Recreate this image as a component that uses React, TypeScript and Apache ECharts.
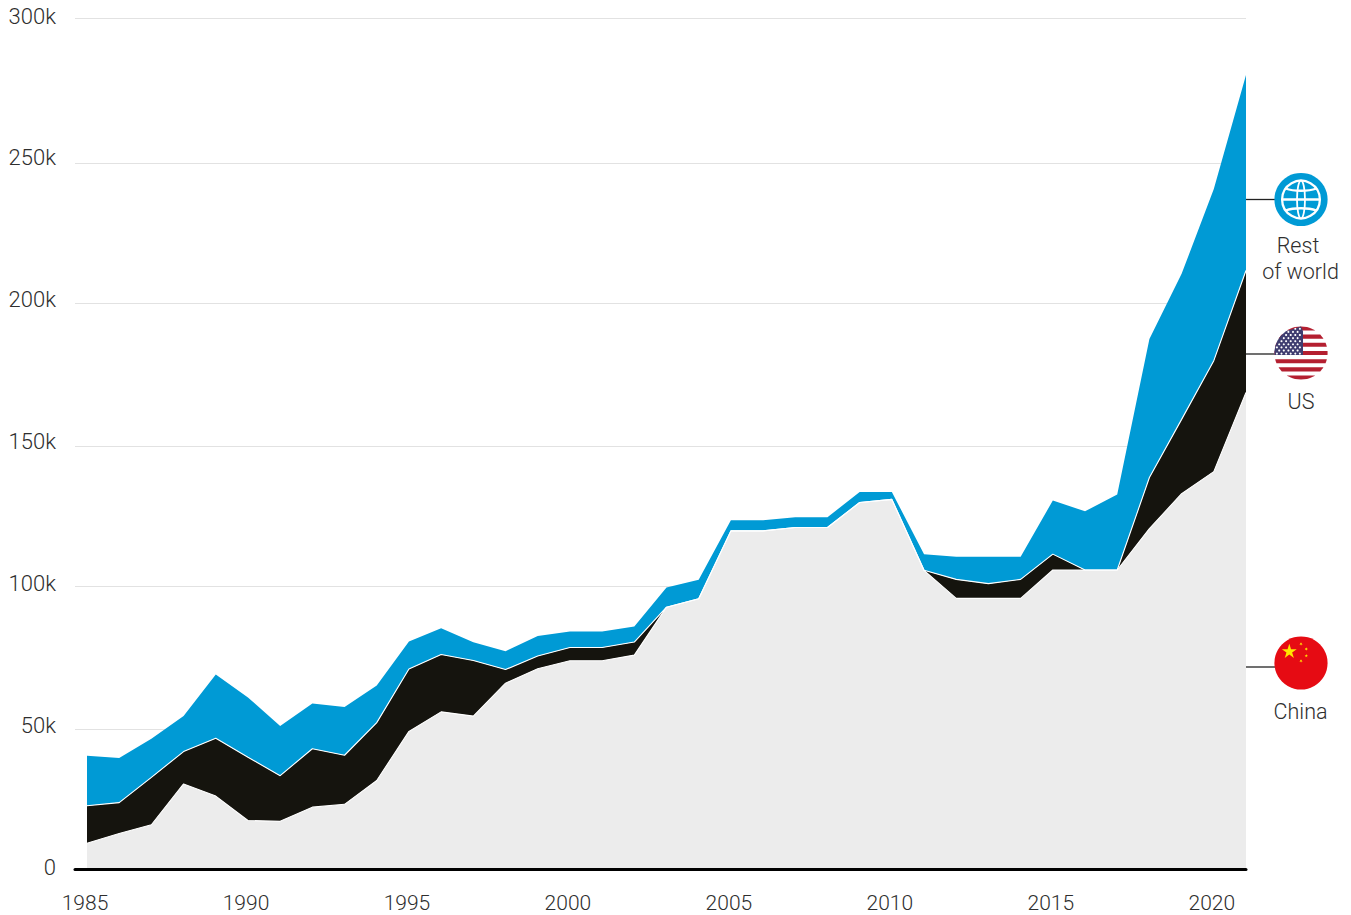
import React, { useEffect, useRef } from "react";
import * as echarts from "echarts";

const years = [1985,1986,1987,1988,1989,1990,1991,1992,1993,1994,1995,1996,1997,1998,1999,2000,2001,2002,2003,2004,2005,2006,2007,2008,2009,2010,2011,2012,2013,2014,2015,2016,2017,2018,2019,2020,2021];
const china = [9.1,12.5,15.6,30,25.7,17.1,16.8,21.8,22.8,31.2,48.5,55.4,53.9,65.5,70.6,73.4,73.4,75.4,92.3,95.3,119.2,119.2,120.4,120.4,129.2,130.3,105.3,95.4,95.4,95.4,105.4,105.4,105.4,120,132.3,140.1,168];
const us = [13.2,10.9,16.7,11.4,20.4,22.3,16.1,20.6,17.3,20.4,22,20.2,19.6,4.8,4.5,4.7,4.7,4.6,0,0,0,0,0,0,0,0,0,6.7,5.2,6.7,5.6,0,0,18,26.2,39.1,43];
const rest = [17.6,15.7,13.6,12.5,22.5,21.1,17.5,15.9,17,13.1,9.7,9.3,6.4,6.5,7,5.6,5.6,5.5,6.9,6.7,3.7,3.7,3.6,3.6,3.7,2.6,5.7,8,9.5,8,18.9,20.7,26.6,48.8,51.3,60.5,68.9];
const yTicks = [0,50,100,150,200,250,300];
const xTicks = [1985,1990,1995,2000,2005,2010,2015,2020];
const gridValues = [49.3,99.8,149.1,199.5,248.9,300];

const FONT = "Roboto";
const TEXT = "#2e2e2e";
const BLUE = "#009ad5";
const R = 26.6;

function bandPoints(cx: number, cy: number, x0: number, x1: number, y0: number, y1: number) {
  const right: number[][] = [];
  const left: number[][] = [];
  const n = 6;
  for (let i = 0; i <= n; i++) {
    const y = y0 + ((y1 - y0) * i) / n;
    const d = Math.sqrt(Math.max(0, R * R - (y - cy) * (y - cy)));
    right.push([Math.min(cx + d, x1), y]);
    left.unshift([Math.max(cx - d, x0), y]);
  }
  return right.concat(left);
}

function starPoints(cx: number, cy: number, r: number, rot = 0) {
  const pts: number[][] = [];
  for (let i = 0; i < 10; i++) {
    const a = -Math.PI / 2 + rot + (i * Math.PI) / 5;
    const rr = i % 2 === 0 ? r : r * 0.382;
    pts.push([cx + rr * Math.cos(a), cy + rr * Math.sin(a)]);
  }
  return pts;
}

function usFlag(cx: number, cy: number) {
  const els: any[] = [{ type: "circle", shape: { cx, cy, r: R }, style: { fill: "#ffffff" } }];
  const top = cy - R;
  const h = (2 * R) / 13;
  for (let i = 0; i < 13; i += 2) {
    els.push({ type: "polygon", shape: { points: bandPoints(cx, cy, cx - R, cx + R, top + i * h, top + (i + 1) * h) }, style: { fill: "#b41f30" } });
  }
  const cantonR = cx + 2;
  const cantonB = top + 7 * h;
  els.push({ type: "polygon", shape: { points: bandPoints(cx, cy, cx - R, cantonR, top, cantonB) }, style: { fill: "#3f3d70" } });
  for (let row = 0; row < 9; row++) {
    const y = top + 2.4 + row * 3.1;
    const count = row % 2 === 0 ? 6 : 5;
    for (let c = 0; c < count; c++) {
      const x = cx - R + 2.5 + (row % 2 === 0 ? 0 : 2.3) + c * 4.6;
      const d = Math.sqrt(Math.max(0, R * R - (y - cy) * (y - cy)));
      if (Math.abs(x - cx) < d - 1) {
        els.push({ type: "circle", shape: { cx: x, cy: y, r: 1.05 }, style: { fill: "#ffffff" } });
      }
    }
  }
  return els;
}

function chinaFlag(cx: number, cy: number) {
  const y = "#ffe600";
  return [
    { type: "circle", shape: { cx, cy, r: R }, style: { fill: "#e60b13" } },
    { type: "polygon", shape: { points: starPoints(cx - 11.7, cy - 11.4, 7.8) }, style: { fill: y } },
    { type: "polygon", shape: { points: starPoints(cx, cy - 19, 1.8, 0.6) }, style: { fill: y } },
    { type: "polygon", shape: { points: starPoints(cx + 5.3, cy - 14, 1.8, 0.3) }, style: { fill: y } },
    { type: "polygon", shape: { points: starPoints(cx + 5.3, cy - 7.3, 1.8, 0) }, style: { fill: y } },
    { type: "polygon", shape: { points: starPoints(cx, cy - 2, 1.8, 0.6) }, style: { fill: y } },
  ];
}

function globe(cx: number, cy: number) {
  const stroke = { stroke: "#ffffff", lineWidth: 2.3, fill: "none" };
  return [
    { type: "circle", shape: { cx, cy, r: R }, style: { fill: BLUE } },
    { type: "circle", shape: { cx, cy, r: 18.9 }, style: stroke },
    { type: "ellipse", shape: { cx, cy, rx: 4, ry: 18.9 }, style: { ...stroke, lineWidth: 1.8 } },
    { type: "line", shape: { x1: cx - 18.9, y1: cy, x2: cx + 18.9, y2: cy }, style: { stroke: "#ffffff", lineWidth: 2.3 } },
    { type: "bezierCurve", shape: { x1: cx - 15.5, y1: cy - 11, cpx1: cx - 7, cpy1: cy - 8, cpx2: cx + 7, cpy2: cy - 8, x2: cx + 15.5, y2: cy - 11 }, style: stroke },
    { type: "bezierCurve", shape: { x1: cx - 15.5, y1: cy + 11, cpx1: cx - 7, cpy1: cy + 8, cpx2: cx + 7, cpy2: cy + 8, x2: cx + 15.5, y2: cy + 11 }, style: stroke },
  ];
}

function label(text: string, x: number, y: number) {
  return {
    type: "text",
    x,
    y,
    style: { text, fill: TEXT, font: `300 21.5px ${FONT}`, textAlign: "center", textVerticalAlign: "middle" },
  };
}

function leader(y: number) {
  return { type: "line", shape: { x1: 1246, y1: y, x2: 1276, y2: y }, style: { stroke: "#222222", lineWidth: 1.3 } };
}

export default function App() {
  const ref = useRef<HTMLDivElement>(null);
  useEffect(() => {
    const chart = echarts.init(ref.current!, undefined, { renderer: "svg" });
    const make = (name: string, data: number[], fill: string, line: number) => ({
      name,
      type: "line",
      stack: "total",
      xAxisIndex: 1,
      yAxisIndex: 1,
      symbol: "none",
      data,
      lineStyle: { color: "#ffffff", width: line, opacity: line ? 1 : 0 },
      areaStyle: { color: fill, opacity: 1 },
    });
    chart.setOption({
      animation: false,
      backgroundColor: "#ffffff",
      grid: [
        { left: 75, right: 105, top: 18, bottom: 46 },
        { left: 87, right: 105, top: 18, bottom: 46 },
      ],
      xAxis: [
        {
          type: "value",
          gridIndex: 0,
          z: 5,
          min: 1984.627,
          max: 2021,
          axisLine: { show: true, onZero: true, lineStyle: { color: "#000000", width: 3 } },
          axisTick: { show: false },
          splitLine: { show: false },
          axisLabel: {
            customValues: xTicks,
            formatter: (v: number) => String(v),
            color: TEXT,
            fontFamily: FONT,
            fontWeight: 300,
            fontSize: 21,
            margin: 23,
            padding: [0, 4, 0, 0],
          },
        },
        {
          type: "category",
          gridIndex: 1,
          data: years,
          boundaryGap: false,
          show: false,
        },
      ],
      yAxis: [
        {
          type: "value",
          gridIndex: 0,
          min: 0,
          max: 300,
          axisLine: { show: false },
          axisTick: { show: false, customValues: gridValues },
          splitLine: { show: true, lineStyle: { color: "#e2e2e2", width: 1 } },
          axisLabel: {
            customValues: yTicks,
            formatter: (v: number) => (v === 0 ? "0" : `${v}k`),
            color: TEXT,
            fontFamily: FONT,
            fontWeight: 300,
            fontSize: 22,
            margin: 19,
            verticalAlign: "bottom",
            lineHeight: 4,
          },
        },
        {
          type: "value",
          gridIndex: 1,
          min: 0,
          max: 300,
          show: false,
          splitLine: { show: false },
        },
      ],
      series: [
        make("China", china, "#ececec", 1.1),
        make("US", us, "#15140e", 1.1),
        make("Rest of world", rest, BLUE, 0),
      ],
      graphic: [
        leader(199.5),
        leader(354),
        leader(667),
        ...globe(1301, 199.5),
        ...usFlag(1301, 353),
        ...chinaFlag(1301, 663),
        label("Rest", 1298, 245.5),
        label("of world", 1300.5, 271.5),
        label("US", 1301, 401.5),
        label("China", 1300.5, 711.5),
      ],
    });
    return () => chart.dispose();
  }, []);
  return <div ref={ref} style={{ position: "absolute", left: 0, top: 0, width: 1351, height: 915 }} />;
}
